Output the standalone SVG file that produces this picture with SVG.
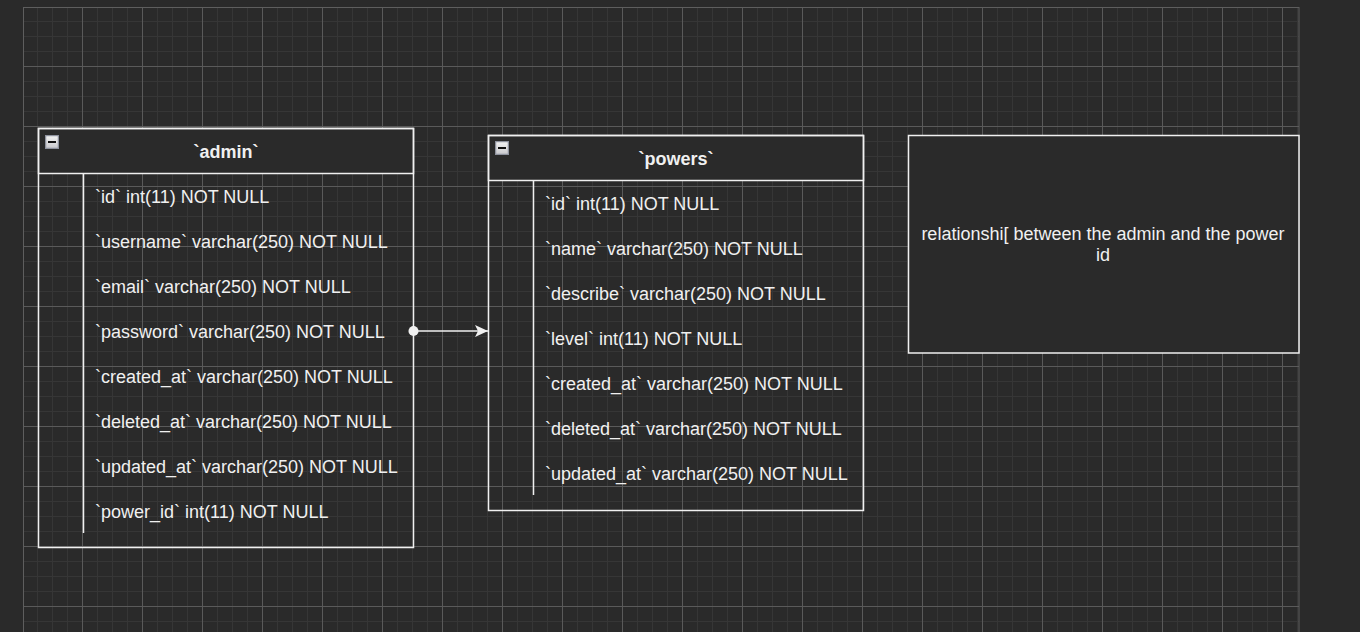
<svg xmlns="http://www.w3.org/2000/svg" width="1360" height="632" viewBox="0 0 1360 632">
  <defs>
    <pattern id="minor" patternUnits="userSpaceOnUse" x="22" y="6" width="15" height="15">
      <rect x="0" y="0" width="15" height="1" fill="#363636"/>
      <rect x="0" y="0" width="1" height="15" fill="#363636"/>
    </pattern>
    <pattern id="major" patternUnits="userSpaceOnUse" x="22" y="6" width="60" height="60">
      <rect x="0" y="0" width="60" height="1" fill="#5a5a5a"/>
      <rect x="0" y="0" width="1" height="60" fill="#5a5a5a"/>
    </pattern>
    <linearGradient id="iconGrad" x1="0" y1="0" x2="0" y2="1">
      <stop offset="0" stop-color="#f4f4f4"/>
      <stop offset="1" stop-color="#c8c8cc"/>
    </linearGradient>
    <symbol id="collapse" viewBox="0 0 14 14">
      <rect x="0.5" y="0.5" width="13" height="13" fill="url(#iconGrad)" stroke="#8e929e" stroke-width="1.5"/>
      <rect x="3" y="6" width="8" height="2" fill="#111"/>
    </symbol>
    <marker id="arrow" viewBox="0 0 13 12" refX="13" refY="6" markerWidth="13" markerHeight="12" markerUnits="userSpaceOnUse" orient="auto">
      <path d="M0,0 L13,6 L0,12 L3,6 Z" fill="#f0f0f0"/>
    </marker>
    <marker id="dot" viewBox="0 0 12 12" refX="6" refY="6" markerWidth="11" markerHeight="11" markerUnits="userSpaceOnUse" orient="auto">
      <circle cx="6" cy="6" r="5.5" fill="#f0f0f0"/>
    </marker>
  </defs>
  <style>
    .frame { fill: none; stroke: #f0f0f0; stroke-width: 1.5; }
    .head { fill: #2a2a2a; stroke: #f0f0f0; stroke-width: 1.5; }
    .sep { stroke: #f0f0f0; stroke-width: 1.5; fill: none; }
    .title { font-family: "Liberation Sans", Arial, sans-serif; font-size: 18px; font-weight: bold; fill: #f0f0f0; text-anchor: middle; }
    .row { font-family: "Liberation Sans", Arial, sans-serif; font-size: 18px; fill: #f0f0f0; }
    .note { font-family: "Liberation Sans", Arial, sans-serif; font-size: 18px; fill: #f0f0f0; text-anchor: middle; }
    .edge { stroke: #f0f0f0; stroke-width: 1.5; fill: none; }
  </style>

  <!-- background and page grid -->
  <rect x="0" y="0" width="1360" height="632" fill="#2a2a2a"/>
  <g id="grid">
    <rect x="23" y="7" width="1276" height="625" fill="url(#minor)"/>
    <rect x="23" y="7" width="1276" height="625" fill="url(#major)"/>
    <rect x="23.5" y="7.5" width="1275.5" height="630" fill="none" stroke="#5e5e5e" stroke-width="1"/>
  </g>

  <!-- admin table -->
  <g id="admin">
    <rect class="head" x="38.5" y="128.5" width="375" height="45"/>
    <rect class="frame" x="38.5" y="128.5" width="375" height="419"/>
    <use href="#collapse" x="45" y="135" width="14" height="14"/>
    <text class="title" x="226" y="158">`admin`</text>
    <line class="sep" x1="83.5" y1="173.5" x2="83.5" y2="533"/>
    <text class="row" x="95" y="203">`id` int(11) NOT NULL</text>
    <text class="row" x="95" y="248">`username` varchar(250) NOT NULL</text>
    <text class="row" x="95" y="293">`email` varchar(250) NOT NULL</text>
    <text class="row" x="95" y="338">`password` varchar(250) NOT NULL</text>
    <text class="row" x="95" y="383">`created_at` varchar(250) NOT NULL</text>
    <text class="row" x="95" y="428">`deleted_at` varchar(250) NOT NULL</text>
    <text class="row" x="95" y="473">`updated_at` varchar(250) NOT NULL</text>
    <text class="row" x="95" y="518">`power_id` int(11) NOT NULL</text>
  </g>

  <!-- powers table -->
  <g id="powers">
    <rect class="head" x="488.5" y="135.5" width="375" height="45"/>
    <rect class="frame" x="488.5" y="135.5" width="375" height="375"/>
    <use href="#collapse" x="495" y="141" width="14" height="14"/>
    <text class="title" x="676" y="165">`powers`</text>
    <line class="sep" x1="533.5" y1="180.5" x2="533.5" y2="495"/>
    <text class="row" x="545" y="210">`id` int(11) NOT NULL</text>
    <text class="row" x="545" y="255">`name` varchar(250) NOT NULL</text>
    <text class="row" x="545" y="300">`describe` varchar(250) NOT NULL</text>
    <text class="row" x="545" y="345">`level` int(11) NOT NULL</text>
    <text class="row" x="545" y="390">`created_at` varchar(250) NOT NULL</text>
    <text class="row" x="545" y="435">`deleted_at` varchar(250) NOT NULL</text>
    <text class="row" x="545" y="480">`updated_at` varchar(250) NOT NULL</text>
  </g>

  <!-- note box -->
  <g id="note">
    <rect x="908.5" y="135.5" width="390.5" height="217.5" fill="#2a2a2a" stroke="#f0f0f0" stroke-width="1.5"/>
    <text class="note" x="1103" y="240">relationshi[ between the admin and the power</text>
    <text class="note" x="1103" y="261">id</text>
  </g>

  <!-- connectors -->
  <g id="connectors">
    <path class="edge" d="M413.5,331 L488,331" marker-start="url(#dot)" marker-end="url(#arrow)"/>
  </g>
</svg>
